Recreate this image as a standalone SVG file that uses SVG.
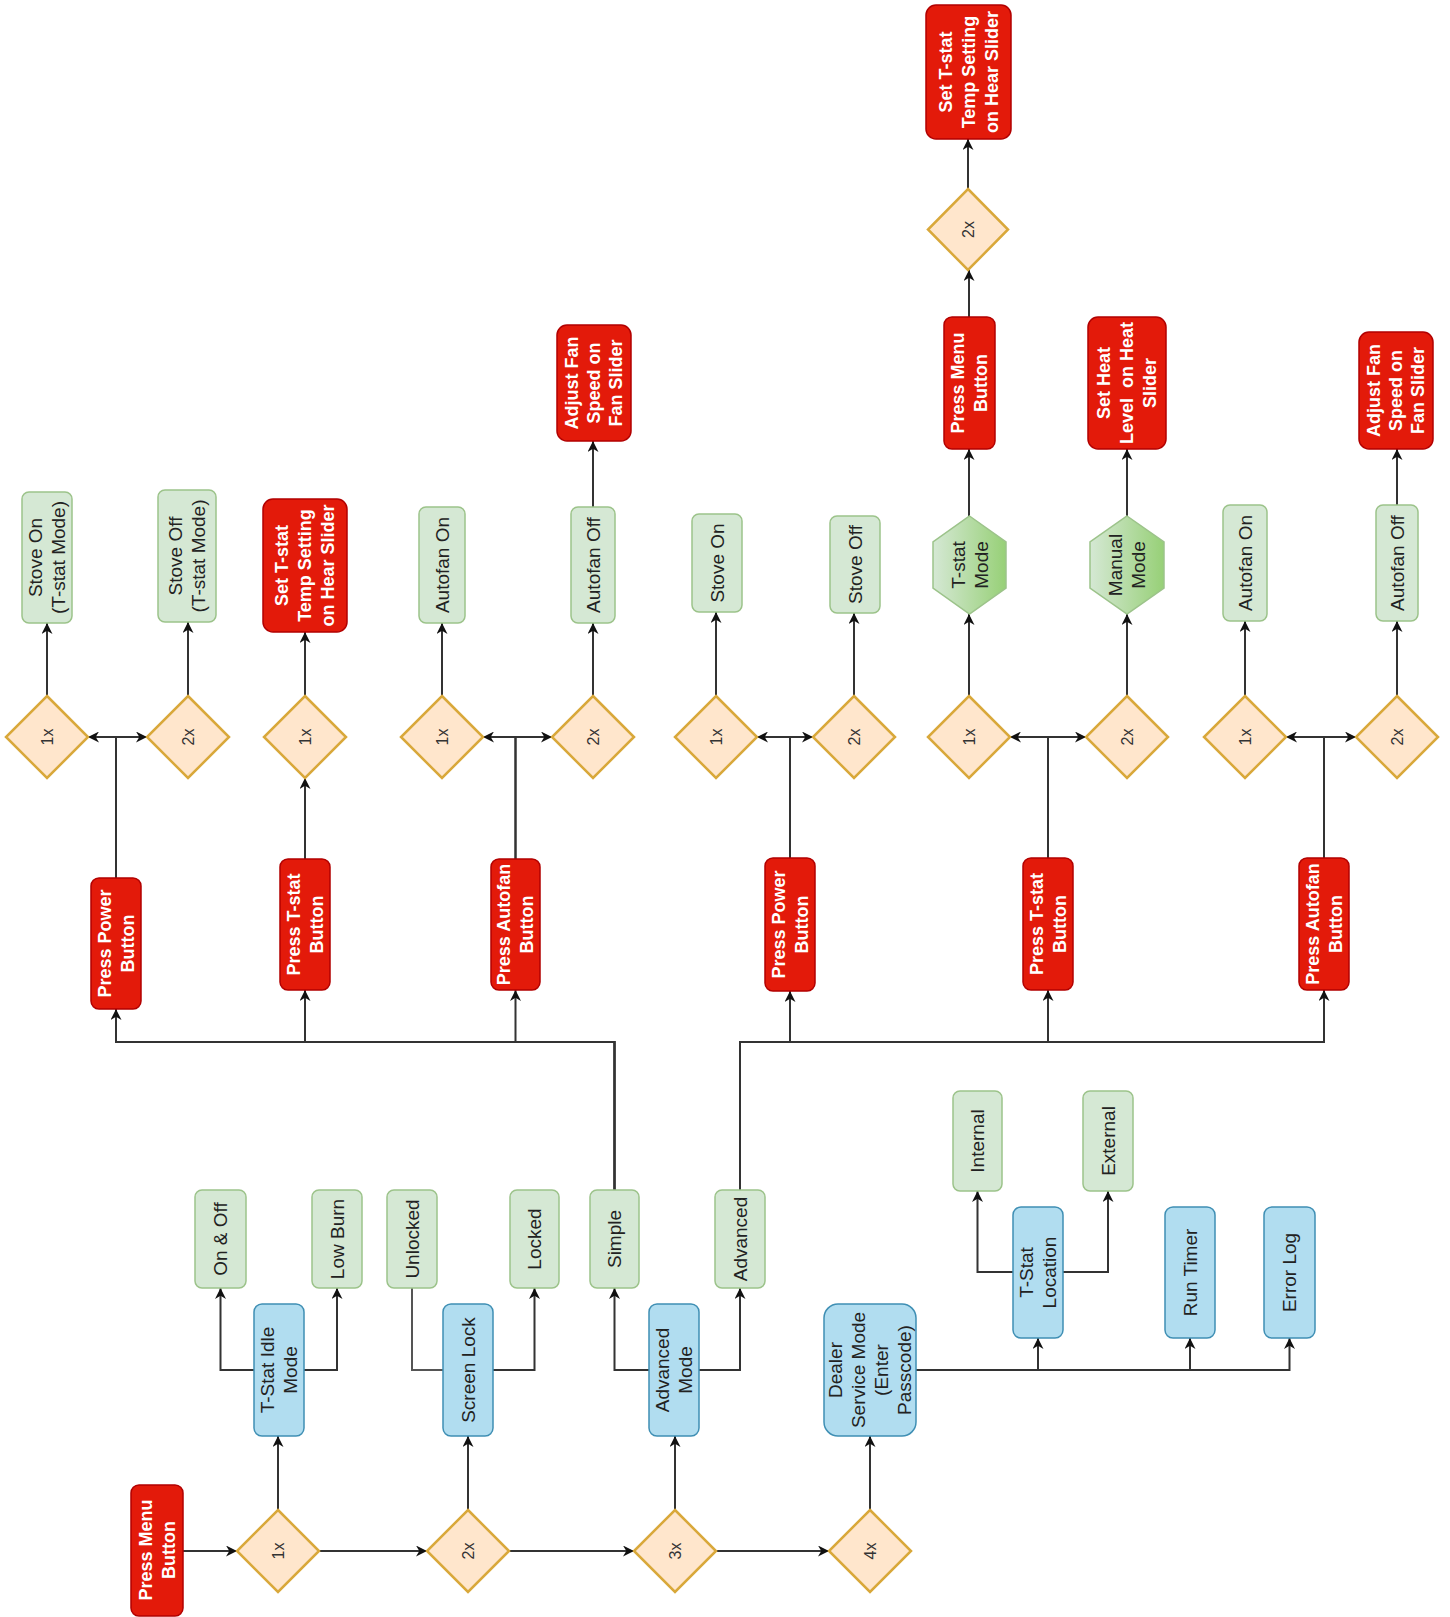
<svg xmlns="http://www.w3.org/2000/svg" width="1450" height="1617" viewBox="0 0 1450 1617">
<style>
.red rect{fill:#e31a0a;stroke:#b20000;stroke-width:1.5}
.green rect{fill:#d5e8d4;stroke:#9cc38a;stroke-width:1.5}
.blue rect{fill:#b1ddf0;stroke:#3f8fb4;stroke-width:1.5}
.dia polygon{fill:#ffe6cc;stroke:#d9a83a;stroke-width:2.5}
.hex polygon{fill:url(#hg);stroke:#9cc38a;stroke-width:1.5}
.red text{font-family:"Liberation Sans",Arial,sans-serif;font-weight:bold;font-size:18px;fill:#fff;text-anchor:middle}
.green text,.blue text,.hex text{font-family:"Liberation Sans",Arial,sans-serif;font-size:19px;fill:#222;text-anchor:middle}
.dia text{font-family:"Liberation Sans",Arial,sans-serif;font-size:16px;fill:#333;text-anchor:middle}
#edges path{fill:none;stroke:#333;stroke-width:2;marker-end:url(#arr)}
#edges path.na{marker-end:none;stroke:#555}
</style>
<defs>
<marker id="arr" viewBox="0 0 10 10" refX="10" refY="5" markerWidth="11" markerHeight="11" markerUnits="userSpaceOnUse" orient="auto"><path d="M0,0 L10,5 L0,10 L3,5 z" fill="#111"/></marker>
<linearGradient id="hg" x1="0" y1="0" x2="1" y2="0"><stop offset="0" stop-color="#d5e8d4"/><stop offset="1" stop-color="#97d077"/></linearGradient>
</defs>
<rect width="1450" height="1617" fill="#fff"/>

<g id="edges">
<path d="M183,1551 H237"/>
<path d="M319,1551 H427"/>
<path d="M509,1551 H634"/>
<path d="M716,1551 H829"/>
<path d="M278,1510 V1436"/>
<path d="M468,1510 V1436"/>
<path d="M675,1510 V1436"/>
<path d="M870,1510 V1436"/>
<path d="M254,1370 H220.5 V1288"/>
<path d="M304,1370 H337 V1288"/>
<path class="na" d="M443,1370 H412 V1288"/>
<path d="M493,1370 H534.5 V1288"/>
<path d="M649,1370 H614.5 V1288"/>
<path d="M699,1370 H740 V1288"/>
<path d="M916,1370 H1038 V1338"/>
<path d="M916,1370 H1190 V1338"/>
<path d="M916,1370 H1289.5 V1338"/>
<path d="M1013,1272 H977.5 V1191"/>
<path d="M1063,1272 H1108 V1191"/>
<path d="M614.5,1190 V1042 H116 V1009"/>
<path d="M614.5,1190 V1042 H305 V990"/>
<path d="M614.5,1190 V1042 H515.5 V990"/>
<path d="M740,1190 V1042 H790 V991"/>
<path d="M740,1190 V1042 H1048 V990"/>
<path d="M740,1190 V1042 H1324 V990"/>
<path d="M116,878 V737 H88"/>
<path d="M116,878 V737 H147"/>
<path d="M305,859 V778"/>
<path d="M515.5,859 V737 H483"/>
<path d="M515.5,859 V737 H552"/>
<path d="M790,858 V737 H757"/>
<path d="M790,858 V737 H813"/>
<path d="M1048,858 V737 H1010"/>
<path d="M1048,858 V737 H1086"/>
<path d="M1324,858 V737 H1286"/>
<path d="M1324,858 V737 H1356"/>
<path d="M47,696 V623"/>
<path d="M188,696 V622"/>
<path d="M305,696 V632"/>
<path d="M442,696 V623"/>
<path d="M593,696 V623"/>
<path d="M593,507 V441"/>
<path d="M716,696 V612"/>
<path d="M854,696 V613"/>
<path d="M969,696 V614"/>
<path d="M969,516 V449"/>
<path d="M969,317 V270"/>
<path d="M968,189 V139"/>
<path d="M1127,696 V614"/>
<path d="M1127,516 V449"/>
<path d="M1245,696 V621"/>
<path d="M1397,696 V621"/>
<path d="M1397,505 V449"/>
</g>

<!-- red nodes -->
<g id="press-menu-1" class="red"><rect x="131" y="1485" width="52" height="131" rx="8"/><text transform="translate(157 1550) rotate(-90)"><tspan x="0" y="-5.2">Press Menu</tspan><tspan x="0" y="17.8">Button</tspan></text></g>
<g id="press-power-1" class="red"><rect x="91" y="878" width="50" height="131" rx="8"/><text transform="translate(116 943.5) rotate(-90)"><tspan x="0" y="-5.2">Press Power</tspan><tspan x="0" y="17.8">Button</tspan></text></g>
<g id="press-tstat-1" class="red"><rect x="280" y="859" width="50" height="131" rx="8"/><text transform="translate(305 924.5) rotate(-90)"><tspan x="0" y="-5.2">Press T-stat</tspan><tspan x="0" y="17.8">Button</tspan></text></g>
<g id="press-autofan-1" class="red"><rect x="491" y="859" width="49" height="131" rx="8"/><text transform="translate(515.5 924.5) rotate(-90)"><tspan x="0" y="-5.2">Press Autofan</tspan><tspan x="0" y="17.8">Button</tspan></text></g>
<g id="press-power-2" class="red"><rect x="765" y="858" width="50" height="133" rx="8"/><text transform="translate(790 924.5) rotate(-90)"><tspan x="0" y="-5.2">Press Power</tspan><tspan x="0" y="17.8">Button</tspan></text></g>
<g id="press-tstat-2" class="red"><rect x="1023" y="858" width="50" height="132" rx="8"/><text transform="translate(1048 924) rotate(-90)"><tspan x="0" y="-5.2">Press T-stat</tspan><tspan x="0" y="17.8">Button</tspan></text></g>
<g id="press-autofan-2" class="red"><rect x="1299" y="858" width="50" height="132" rx="8"/><text transform="translate(1324 924) rotate(-90)"><tspan x="0" y="-5.2">Press Autofan</tspan><tspan x="0" y="17.8">Button</tspan></text></g>
<g id="set-tstat-1" class="red"><rect x="263" y="499" width="84" height="133" rx="10"/><text transform="translate(305 565.5) rotate(-90)"><tspan x="0" y="-16.7">Set T-stat</tspan><tspan x="0" y="6.3">Temp Setting</tspan><tspan x="0" y="29.3">on Hear Slider</tspan></text></g>
<g id="adjust-fan-1" class="red"><rect x="557" y="325" width="74" height="116" rx="10"/><text transform="translate(594 383) rotate(-90)"><tspan x="0" y="-15.7">Adjust Fan</tspan><tspan x="0" y="6.3">Speed on</tspan><tspan x="0" y="28.3">Fan Slider</tspan></text></g>
<g id="press-menu-2" class="red"><rect x="944" y="317" width="51" height="132" rx="8"/><text transform="translate(969.5 383) rotate(-90)"><tspan x="0" y="-5.2">Press Menu</tspan><tspan x="0" y="17.8">Button</tspan></text></g>
<g id="set-tstat-2" class="red"><rect x="926" y="5" width="85" height="134" rx="10"/><text transform="translate(968.5 72) rotate(-90)"><tspan x="0" y="-16.7">Set T-stat</tspan><tspan x="0" y="6.3">Temp Setting</tspan><tspan x="0" y="29.3">on Hear Slider</tspan></text></g>
<g id="set-heat" class="red"><rect x="1088" y="317" width="78" height="132" rx="10"/><text transform="translate(1127 383) rotate(-90)"><tspan x="0" y="-16.7">Set Heat</tspan><tspan x="0" y="6.3" xml:space="preserve">Level  on Heat</tspan><tspan x="0" y="29.3">Slider</tspan></text></g>
<g id="adjust-fan-2" class="red"><rect x="1359" y="332" width="74" height="117" rx="10"/><text transform="translate(1396 390.5) rotate(-90)"><tspan x="0" y="-15.7">Adjust Fan</tspan><tspan x="0" y="6.3">Speed on</tspan><tspan x="0" y="28.3">Fan Slider</tspan></text></g>

<!-- blue nodes -->
<g id="tstat-idle" class="blue"><rect x="254" y="1304" width="50" height="132" rx="8"/><text transform="translate(279 1370) rotate(-90)"><tspan x="0" y="-4.85">T-Stat Idle</tspan><tspan x="0" y="18.15">Mode</tspan></text></g>
<g id="screen-lock" class="blue"><rect x="443" y="1304" width="50" height="132" rx="8"/><text transform="translate(468 1370) rotate(-90)"><tspan x="0" y="6.65">Screen Lock</tspan></text></g>
<g id="advanced-mode" class="blue"><rect x="649" y="1304" width="50" height="132" rx="8"/><text transform="translate(674 1370) rotate(-90)"><tspan x="0" y="-4.85">Advanced</tspan><tspan x="0" y="18.15">Mode</tspan></text></g>
<g id="dealer" class="blue"><rect x="824" y="1304" width="92" height="132" rx="14"/><text transform="translate(870 1370) rotate(-90)"><tspan x="0" y="-27.85">Dealer</tspan><tspan x="0" y="-4.85">Service Mode</tspan><tspan x="0" y="18.15">(Enter</tspan><tspan x="0" y="41.15">Passcode)</tspan></text></g>
<g id="tstat-location" class="blue"><rect x="1013" y="1207" width="50" height="131" rx="8"/><text transform="translate(1038 1272.5) rotate(-90)"><tspan x="0" y="-4.85">T-Stat</tspan><tspan x="0" y="18.15">Location</tspan></text></g>
<g id="run-timer" class="blue"><rect x="1165" y="1207" width="50" height="131" rx="8"/><text transform="translate(1190 1272.5) rotate(-90)"><tspan x="0" y="6.65">Run Timer</tspan></text></g>
<g id="error-log" class="blue"><rect x="1264" y="1207" width="51" height="131" rx="8"/><text transform="translate(1289.5 1272.5) rotate(-90)"><tspan x="0" y="6.65">Error Log</tspan></text></g>

<!-- green nodes -->
<g id="on-off" class="green"><rect x="195" y="1190" width="51" height="98" rx="7"/><text transform="translate(220.5 1239) rotate(-90)"><tspan x="0" y="6.65">On &amp; Off</tspan></text></g>
<g id="low-burn" class="green"><rect x="312" y="1190" width="50" height="98" rx="7"/><text transform="translate(337 1239) rotate(-90)"><tspan x="0" y="6.65">Low Burn</tspan></text></g>
<g id="unlocked" class="green"><rect x="387" y="1190" width="50" height="98" rx="7"/><text transform="translate(412 1239) rotate(-90)"><tspan x="0" y="6.65">Unlocked</tspan></text></g>
<g id="locked" class="green"><rect x="510" y="1190" width="49" height="98" rx="7"/><text transform="translate(534.5 1239) rotate(-90)"><tspan x="0" y="6.65">Locked</tspan></text></g>
<g id="simple" class="green"><rect x="590" y="1190" width="49" height="98" rx="7"/><text transform="translate(614.5 1239) rotate(-90)"><tspan x="0" y="6.65">Simple</tspan></text></g>
<g id="advanced" class="green"><rect x="715" y="1190" width="50" height="98" rx="7"/><text transform="translate(740 1239) rotate(-90)"><tspan x="0" y="6.65">Advanced</tspan></text></g>
<g id="internal" class="green"><rect x="953" y="1091" width="49" height="100" rx="7"/><text transform="translate(977.5 1141) rotate(-90)"><tspan x="0" y="6.65">Internal</tspan></text></g>
<g id="external" class="green"><rect x="1083" y="1091" width="50" height="100" rx="7"/><text transform="translate(1108 1141) rotate(-90)"><tspan x="0" y="6.65">External</tspan></text></g>
<g id="stove-on-tstat" class="green"><rect x="22" y="492" width="50" height="131" rx="7"/><text transform="translate(47 557.5) rotate(-90)"><tspan x="0" y="-4.85">Stove On</tspan><tspan x="0" y="18.15">(T-stat Mode)</tspan></text></g>
<g id="stove-off-tstat" class="green"><rect x="158" y="490" width="58" height="132" rx="7"/><text transform="translate(187 556) rotate(-90)"><tspan x="0" y="-4.85">Stove Off</tspan><tspan x="0" y="18.15">(T-stat Mode)</tspan></text></g>
<g id="autofan-on-1" class="green"><rect x="419" y="507" width="46" height="116" rx="7"/><text transform="translate(442 565) rotate(-90)"><tspan x="0" y="6.65">Autofan On</tspan></text></g>
<g id="autofan-off-1" class="green"><rect x="571" y="507" width="44" height="116" rx="7"/><text transform="translate(593 565) rotate(-90)"><tspan x="0" y="6.65">Autofan Off</tspan></text></g>
<g id="stove-on" class="green"><rect x="692" y="514" width="50" height="98" rx="7"/><text transform="translate(717 563) rotate(-90)"><tspan x="0" y="6.65">Stove On</tspan></text></g>
<g id="stove-off" class="green"><rect x="830" y="516" width="50" height="97" rx="7"/><text transform="translate(855 564.5) rotate(-90)"><tspan x="0" y="6.65">Stove Off</tspan></text></g>
<g id="autofan-on-2" class="green"><rect x="1223" y="505" width="44" height="116" rx="7"/><text transform="translate(1245 563) rotate(-90)"><tspan x="0" y="6.65">Autofan On</tspan></text></g>
<g id="autofan-off-2" class="green"><rect x="1376" y="505" width="42" height="116" rx="7"/><text transform="translate(1397 563) rotate(-90)"><tspan x="0" y="6.65">Autofan Off</tspan></text></g>

<!-- hexagons -->
<g id="tstat-mode" class="hex"><polygon points="969.5,516 1006,542 1006,588 969.5,614 933,588 933,542"/><text transform="translate(969.5 565) rotate(-90)"><tspan x="0" y="-4.85">T-stat</tspan><tspan x="0" y="18.15">Mode</tspan></text></g>
<g id="manual-mode" class="hex"><polygon points="1127,516 1164,542 1164,588 1127,614 1090,588 1090,542"/><text transform="translate(1127 565) rotate(-90)"><tspan x="0" y="-4.85">Manual</tspan><tspan x="0" y="18.15">Mode</tspan></text></g>

<!-- diamonds -->
<g id="d-1x-a" class="dia"><polygon points="278,1510 319,1551 278,1592 237,1551"/><text transform="translate(278 1551) rotate(-90)" y="5.6">1x</text></g>
<g id="d-2x-a" class="dia"><polygon points="468,1510 509,1551 468,1592 427,1551"/><text transform="translate(468 1551) rotate(-90)" y="5.6">2x</text></g>
<g id="d-3x-a" class="dia"><polygon points="675,1510 716,1551 675,1592 634,1551"/><text transform="translate(675 1551) rotate(-90)" y="5.6">3x</text></g>
<g id="d-4x-a" class="dia"><polygon points="870,1510 911,1551 870,1592 829,1551"/><text transform="translate(870 1551) rotate(-90)" y="5.6">4x</text></g>
<g id="d-1x-b" class="dia"><polygon points="47,696 88,737 47,778 6,737"/><text transform="translate(47 737) rotate(-90)" y="5.6">1x</text></g>
<g id="d-2x-b" class="dia"><polygon points="188,696 229,737 188,778 147,737"/><text transform="translate(188 737) rotate(-90)" y="5.6">2x</text></g>
<g id="d-1x-c" class="dia"><polygon points="305,696 346,737 305,778 264,737"/><text transform="translate(305 737) rotate(-90)" y="5.6">1x</text></g>
<g id="d-1x-d" class="dia"><polygon points="442,696 483,737 442,778 401,737"/><text transform="translate(442 737) rotate(-90)" y="5.6">1x</text></g>
<g id="d-2x-d" class="dia"><polygon points="593,696 634,737 593,778 552,737"/><text transform="translate(593 737) rotate(-90)" y="5.6">2x</text></g>
<g id="d-1x-e" class="dia"><polygon points="716,696 757,737 716,778 675,737"/><text transform="translate(716 737) rotate(-90)" y="5.6">1x</text></g>
<g id="d-2x-e" class="dia"><polygon points="854,696 895,737 854,778 813,737"/><text transform="translate(854 737) rotate(-90)" y="5.6">2x</text></g>
<g id="d-1x-f" class="dia"><polygon points="969,696 1010,737 969,778 928,737"/><text transform="translate(969 737) rotate(-90)" y="5.6">1x</text></g>
<g id="d-2x-f" class="dia"><polygon points="1127,696 1168,737 1127,778 1086,737"/><text transform="translate(1127 737) rotate(-90)" y="5.6">2x</text></g>
<g id="d-1x-g" class="dia"><polygon points="1245,696 1286,737 1245,778 1204,737"/><text transform="translate(1245 737) rotate(-90)" y="5.6">1x</text></g>
<g id="d-2x-g" class="dia"><polygon points="1397,696 1438,737 1397,778 1356,737"/><text transform="translate(1397 737) rotate(-90)" y="5.6">2x</text></g>
<g id="d-2x-top" class="dia"><polygon points="968,189 1008,229.5 968,270 928,229.5"/><text transform="translate(968 229.5) rotate(-90)" y="5.6">2x</text></g>
</svg>
